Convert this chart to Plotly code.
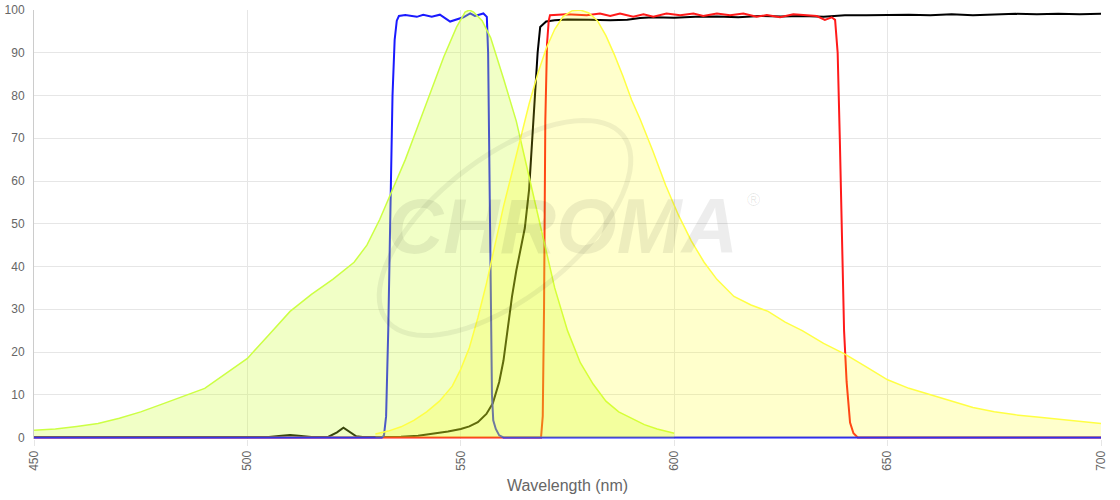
import numpy as np
import plotly.graph_objects as go

# ---- Data (wavelength nm, % transmission / normalized intensity) ----
exc_x = [450, 455, 460, 465, 470, 475, 480, 485, 490, 495, 500, 505, 510, 515, 520, 525, 528, 531, 534,
         537, 540, 543, 546, 549, 551, 552, 553, 555, 557, 560, 563, 566, 569, 572, 575, 578, 581, 584,
         587, 590, 593, 596, 600]
exc_y = [1.7, 2.0, 2.6, 3.3, 4.5, 6.0, 7.8, 9.6, 11.5, 15.0, 18.5, 24.0, 29.5, 33.5, 37.0, 41.0, 45.0, 51.0,
         58.0, 65.0, 73.0, 81.0, 89.0, 96.0, 99.5, 100.0, 99.5, 97.5, 93.5, 84.0, 74.0, 61.0, 48.0, 35.0,
         25.0, 17.5, 12.5, 8.5, 6.0, 4.5, 3.0, 2.0, 1.0]

em_x = [530, 533, 536, 539, 542, 545, 548, 550, 552, 554, 556, 558, 560, 562, 564, 566, 568, 570, 572, 574,
        576, 578, 580, 582, 584, 586, 588, 590, 592, 595, 598, 601, 604, 607, 610, 614, 618, 622, 626, 630,
        635, 640, 645, 650, 655, 660, 665, 670, 675, 680, 685, 690, 695, 700]
em_y = [0.8, 1.5, 2.5, 4.0, 6.0, 8.5, 12.0, 16.0, 21.0, 28.0, 36.0, 45.0, 54.0, 62.0, 70.0, 78.0, 85.0, 91.0,
        95.5, 98.5, 99.8, 100.0, 99.3, 97.5, 94.0, 89.5, 84.5, 79.0, 74.5, 67.0, 59.0, 52.0, 46.0, 41.0,
        37.0, 33.0, 31.0, 29.5, 27.0, 25.0, 22.0, 19.5, 16.5, 13.5, 11.5, 10.0, 8.5, 7.0, 6.0, 5.3, 4.8,
        4.3, 3.8, 3.3]

exf_x = [450, 531.5, 532, 532.5, 533, 533.5, 534, 534.5, 535, 535.5, 537, 539.7, 541.2, 543.2, 545.1, 547.5,
         549.0, 550.6, 552.2, 553.3, 555.3, 556.1, 556.4, 556.7, 557.0, 557.3, 557.6, 558.2, 559.0, 560, 700]
exf_y = [0, 0, 0.5, 5, 25, 55, 80, 93, 97.5, 98.6, 98.8, 98.4, 98.9, 98.4, 98.9, 97.3, 97.7, 98.3, 99.2,
         98.6, 99.2, 98.4, 90, 60, 30, 10, 4, 2, 0.5, 0, 0]

emf_x = [450, 568.8, 569.2, 569.5, 569.8, 570.2, 570.6, 570.9, 574.8, 579.5, 582.6, 585.0, 587.3, 590.4,
         592.8, 595.1, 598.2, 601.4, 604.5, 606.8, 610.0, 613.1, 616.2, 619.3, 621.7, 624.8, 627.9, 631.0,
         633.4, 635.3, 636.9, 637.7, 638.3, 638.8, 639.3, 639.8, 640.4, 641.2, 642.0, 643.0, 700]
emf_y = [0, 0, 5, 30, 74, 92, 97.5, 98.8, 99.0, 98.8, 99.2, 98.6, 99.2, 98.4, 99.0, 98.4, 99.2, 98.8, 99.2,
         98.6, 99.2, 98.8, 99.2, 98.4, 98.8, 98.3, 99.0, 98.8, 98.6, 97.7, 98.3, 97.7, 90, 70, 45, 25, 13,
         3.5, 1, 0, 0]

dic_x = [450, 495, 500, 505, 508, 510, 512, 515, 519, 521, 522.5, 524, 525.5, 527, 532, 536, 540, 544, 547,
         550, 552, 554, 556, 557.5, 559, 560, 561, 562, 563, 564, 565, 566, 567, 568, 568.6, 570, 572, 575,
         580, 585, 589, 592, 595, 600, 605, 610, 615, 620, 625, 630, 635, 640, 645, 650, 655, 660, 665,
         670, 675, 680, 685, 690, 695, 700]
dic_y = [0.1, 0.2, 0.1, 0.1, 0.4, 0.6, 0.4, 0.1, 0.2, 1.2, 2.3, 1.2, 0.3, 0.1, 0.1, 0.2, 0.4, 0.9, 1.4,
         2.0, 2.6, 3.6, 5.5, 8.0, 13.0, 18.0, 26.0, 33.0, 39.0, 44.0, 49.0, 58.0, 74.0, 90.0, 96.0, 97.3,
         97.6, 97.8, 97.7, 97.6, 97.7, 98.1, 98.3, 98.2, 98.4, 98.5, 98.3, 98.6, 98.5, 98.6, 98.4, 98.8,
         98.8, 98.9, 98.9, 98.8, 99.0, 98.8, 99.0, 99.1, 99.0, 99.1, 99.0, 99.1]

x_ticks = [450, 500, 550, 600, 650, 700]
y_ticks = list(range(0, 101, 10))

fig = go.Figure()

fig.add_trace(go.Scatter(x=dic_x, y=dic_y, mode="lines", line=dict(color="black", width=2),
                         name="Dichroic", showlegend=False))
fig.add_trace(go.Scatter(x=emf_x, y=emf_y, mode="lines", line=dict(color="#ff1a1a", width=2),
                         name="Emission filter", showlegend=False))
fig.add_trace(go.Scatter(x=exf_x, y=exf_y, mode="lines", line=dict(color="#1a1aff", width=2),
                         name="Excitation filter", showlegend=False))
fig.add_trace(go.Scatter(x=exc_x, y=exc_y, mode="lines", fill="tozeroy",
                         fillcolor="rgba(204,255,51,0.28)", line=dict(color="#ccff44", width=1.5),
                         name="Excitation", showlegend=False))
fig.add_trace(go.Scatter(x=em_x, y=em_y, mode="lines", fill="tozeroy",
                         fillcolor="rgba(255,255,0,0.2)", line=dict(color="#ffff44", width=1.5),
                         name="Emission", showlegend=False))

# ---- Watermark (decorative) ----
L, R, T, B = 34, 1101, 10, 439
def px(x): return (x - L) / (R - L)
def py(y): return 1 - (y - T) / (B - T)

fig.add_annotation(xref="paper", yref="paper", x=px(562), y=py(226), text="<b><i>CHROMA</i></b>",
                   showarrow=False, font=dict(family="Liberation Sans, Arial", size=78,
                                              color="rgba(0,0,0,0.07)"))
fig.add_annotation(xref="paper", yref="paper", x=px(762), y=py(200), text="®",
                   showarrow=False, font=dict(family="Liberation Sans, Arial", size=18,
                                              color="rgba(0,0,0,0.09)"))
t = np.linspace(0, 2 * np.pi, 80)
ang = np.deg2rad(-38)
ex = 150 * np.cos(t)
ey = 70 * np.sin(t)
xs = 505 + ex * np.cos(ang) - ey * np.sin(ang)
ys = 228 + ex * np.sin(ang) + ey * np.cos(ang)
path = "M " + " L ".join(f"{px(a):.4f},{py(b):.4f}" for a, b in zip(xs, ys)) + " Z"
fig.add_shape(type="path", xref="paper", yref="paper", path=path,
              line=dict(color="rgba(0,0,0,0.06)", width=5), layer="above")

fig.update_layout(
    width=1120, height=500,
    margin=dict(l=34, r=19, t=10, b=61, autoexpand=False),
    paper_bgcolor="white", plot_bgcolor="white",
    font=dict(family="Liberation Sans, Arial, sans-serif", color="#666", size=12),
    hovermode=False,
)
fig.update_xaxes(range=[450, 700], tickvals=x_ticks, ticktext=[str(v) for v in x_ticks],
                 tickangle=-90, showgrid=True, gridcolor="#e6e6e6", gridwidth=1, automargin=False,
                 zeroline=False, showline=False, ticks="outside", ticklen=6, tickcolor="#e6e6e6",
                 title=dict(text="Wavelength (nm)", font=dict(size=16, color="#666"), standoff=9))
fig.update_yaxes(range=[-0.35, 100], tickvals=y_ticks, showgrid=True, gridcolor="#e6e6e6", gridwidth=1,
                 zeroline=False, showline=True, linecolor="#cccccc", linewidth=1, automargin=False,
                 ticks="", ticklabelstandoff=6)

fig.write_html("out.html", config={"displayModeBar": False, "staticPlot": True},
               post_script="document.body.style.margin='0';document.body.style.overflow='hidden';")
